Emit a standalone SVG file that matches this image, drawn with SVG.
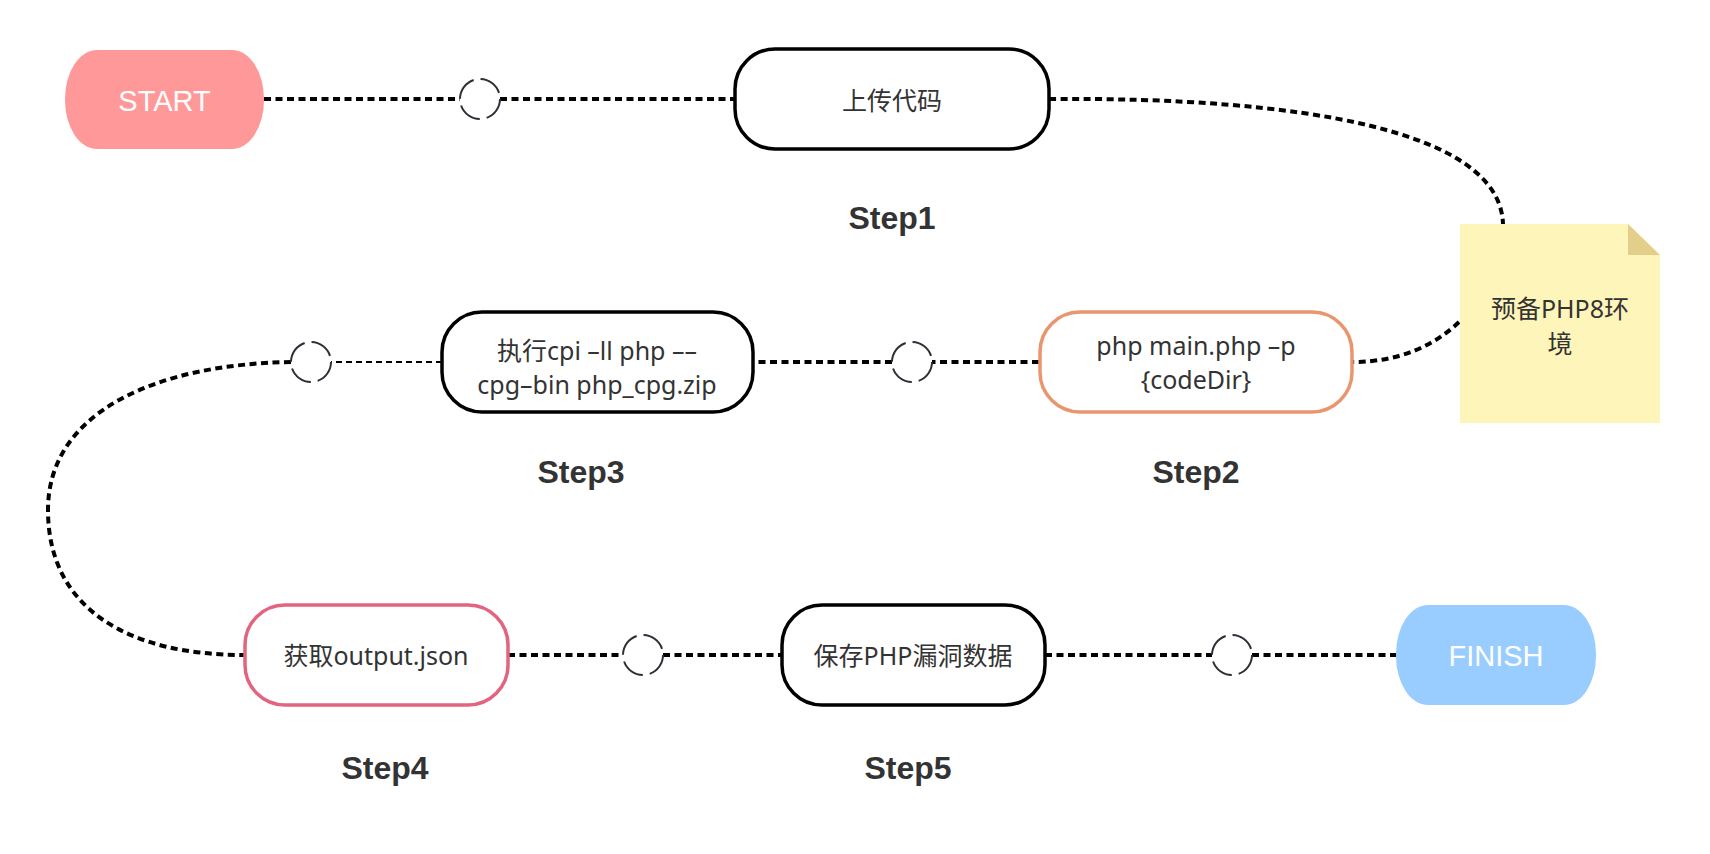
<svg xmlns="http://www.w3.org/2000/svg" width="1710" height="854" viewBox="0 0 1710 854">
<defs>
<style>
.bg{fill:#ffffff}
.node{fill:#ffffff;stroke:#000000;stroke-width:3.5}
.orange{stroke:#E9966F;stroke-width:3.5}
.pink{stroke:#E2647F;stroke-width:3.5}
.term-start{fill:#FF9999}
.term-finish{fill:#99CCFF}
.t{font-family:"Noto Sans","Noto Sans CJK SC",sans-serif;font-size:25px;fill:#333333;text-anchor:middle;dominant-baseline:central}
.tw{font-family:"Liberation Sans",Arial,sans-serif;font-size:29px;fill:#ffffff;text-anchor:middle;dominant-baseline:central}
.step{font-family:"Liberation Sans",Arial,sans-serif;font-size:32px;font-weight:bold;fill:#333333;text-anchor:middle}
.dot{fill:none;stroke:#000000;stroke-width:4;stroke-dasharray:7 4.5}
.thin{fill:none;stroke:#000000;stroke-width:2;stroke-dasharray:6 4}
.ring{fill:none;stroke:#2b2f36;stroke-width:2;stroke-dasharray:24.4 7}
</style>
</defs>
<rect class="bg" x="0" y="0" width="1710" height="854"/>

<g id="connectors">
<path class="dot" d="M264 99 H460"/>
<path class="dot" d="M500 99 H735"/>
<path class="dot" d="M1049 99 C1300 97 1500 130 1503 224"/>
<path class="dot" d="M1459 322 C1435 345 1400 362 1352 362"/>
<path class="dot" d="M1039 362 H932"/>
<path class="dot" d="M892 362 H753"/>
<path class="thin" d="M442 362 H331"/>
<path class="dot" d="M291 362 C160 364 48 410 48 510 C48 610 130 655 244 655"/>
<path class="dot" d="M508 655 H623"/>
<path class="dot" d="M663 655 H782"/>
<path class="dot" d="M1045 655 H1212"/>
<path class="dot" d="M1252 655 H1396"/>
<circle class="ring" cx="480" cy="99" r="20"/>
<circle class="ring" cx="912" cy="362" r="20"/>
<circle class="ring" cx="311" cy="362" r="20"/>
<circle class="ring" cx="643" cy="655" r="20"/>
<circle class="ring" cx="1232" cy="655" r="20"/>
</g>

<g id="start">
<rect class="term-start" x="65" y="50" width="199" height="99" rx="32" ry="49"/>
<text class="tw" x="164.5" y="101">START</text>
</g>

<g id="step1">
<rect class="node" x="735" y="49" width="314" height="100" rx="40" ry="40"/>
<text class="t" x="892" y="100">上传代码</text>
<text class="step" x="892" y="229">Step1</text>
</g>

<g id="note">
<path d="M1460 224 H1628 L1660 255 V423 H1460 Z" fill="#FEF5BA"/>
<path d="M1628 224 V255 H1660 Z" fill="#E3CF8A"/>
<text class="t" x="1560" y="308">预备PHP8环</text>
<text class="t" x="1560" y="343">境</text>
</g>

<g id="step2">
<rect class="node orange" x="1040" y="312" width="312" height="100" rx="40" ry="40"/>
<text class="t" x="1196" y="345">php main.php –p</text>
<text class="t" x="1196" y="379">{codeDir}</text>
<text class="step" x="1196" y="483">Step2</text>
</g>

<g id="step3">
<rect class="node" x="442" y="312" width="311" height="100" rx="40" ry="40"/>
<text class="t" x="597" y="350">执行cpi –ll php ––</text>
<text class="t" x="597" y="384">cpg–bin php_cpg.zip</text>
<text class="step" x="581" y="483">Step3</text>
</g>

<g id="step4">
<rect class="node pink" x="245" y="605" width="263" height="100" rx="40" ry="40"/>
<text class="t" x="376" y="655">获取output.json</text>
<text class="step" x="385" y="779">Step4</text>
</g>

<g id="step5">
<rect class="node" x="782" y="605" width="263" height="100" rx="40" ry="40"/>
<text class="t" x="913" y="655">保存PHP漏洞数据</text>
<text class="step" x="908" y="779">Step5</text>
</g>

<g id="finish">
<rect class="term-finish" x="1396" y="605" width="200" height="100" rx="32" ry="49"/>
<text class="tw" x="1496" y="656">FINISH</text>
</g>
</svg>
